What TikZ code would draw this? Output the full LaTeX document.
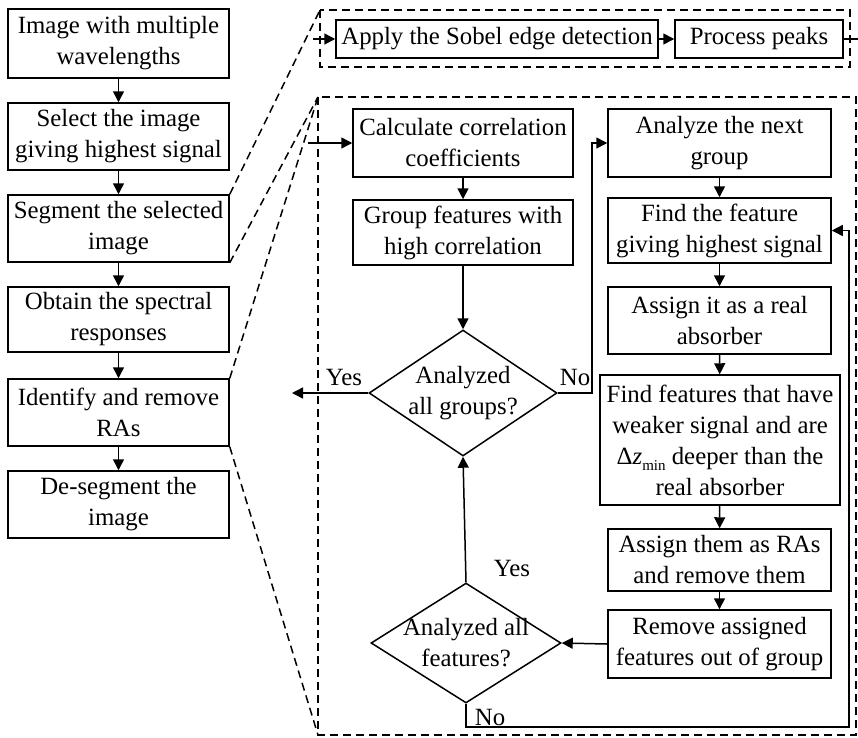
\documentclass[tikz,border=0pt]{standalone}
\usepackage{fontspec}
\setmainfont{Liberation Serif}
\usetikzlibrary{arrows.meta,shapes.geometric}
\begin{document}
\begin{tikzpicture}[x=1pt,y=-1pt,
  every node/.style={font=\fontsize{24.8}{31}\selectfont},
  box/.style={draw, line width=1.5pt, align=center, inner sep=0pt},
  dia/.style={draw, diamond, line width=1.5pt, inner sep=0pt},
  txt/.style={align=center, inner sep=0pt},
  arr/.style={line width=1.5pt, -{Triangle[length=11pt,width=11pt]}},
  ln/.style={line width=1.5pt},
  dsh/.style={line width=1.5pt, dash pattern=on 8pt off 5pt}]
\useasboundingbox (0,0) rectangle (858,737);
% left column
\node[box, minimum width=221pt, minimum height=69pt] (b1) at (118.5,43.5) {Image with multiple\\wavelengths};
\node[box, minimum width=221pt, minimum height=67pt] (b2) at (118.5,136.5) {Select the image\\giving highest signal};
\node[box, minimum width=221pt, minimum height=67pt] (b3) at (118.5,228.5) {Segment the selected\\image};
\node[box, minimum width=221pt, minimum height=65pt] (b4) at (118.5,319.5) {Obtain the spectral\\responses};
\node[box, minimum width=221pt, minimum height=67pt] (b5) at (118.5,412.5) {Identify and remove\\RAs};
\node[box, minimum width=221pt, minimum height=67pt] (b6) at (118.5,504.5) {De-segment the\\image};
\draw[arr] (b1) -- (b2);
\draw[arr] (b2) -- (b3);
\draw[arr] (b3) -- (b4);
\draw[arr] (b4) -- (b5);
\draw[arr] (b5) -- (b6);
% top dashed box
\coordinate (tTL) at (320,10);
\coordinate (tBR) at (850,67);
\draw[dsh] (tTL) rectangle (tBR);
\node[box, minimum width=322pt, minimum height=38pt] (sob) at (497,39) {Apply the Sobel edge detection};
\node[box, minimum width=168pt, minimum height=38pt] (pk) at (759,39) {Process peaks};
\coordinate (tin) at (313,39);
\coordinate (tout) at (858,39);
\draw[arr] (tin) -- (sob);
\draw[arr] (sob) -- (pk);
\draw[ln] (pk) -- (tout);
% large dashed box
\coordinate (lTL) at (318,97);
\coordinate (lBR) at (856,735);
\coordinate (lBL) at (318,735);
\draw[dsh] (lTL) rectangle (lBR);
% zoom lines
\draw[dsh] (b3.north east) -- (tTL);
\draw[dsh] (b3.south east) -- (lTL);
\draw[dsh] (b5.north east) -- (lTL);
\draw[dsh] (b5.south east) -- (lBL);
% middle column
\node[box, minimum width=220pt, minimum height=68pt] (calc) at (463,143) {Calculate correlation\\coefficients};
\node[box, minimum width=220pt, minimum height=65pt] (grp) at (463,232.5) {Group features with\\high correlation};
\node[dia, minimum width=188pt, minimum height=126pt] (d1) at (463,393) {};
\node[txt] at (d1) {Analyzed\\all groups?};
\node[dia, minimum width=190pt, minimum height=120pt] (d2) at (466,643) {};
\node[txt] at (d2) {Analyzed all\\features?};
\coordinate (cin) at (308,143);
\draw[arr] (cin) -- (calc);
\draw[arr] (calc) -- (grp);
\draw[arr] (grp) -- (d1);
\coordinate (yout) at (292,393);
\draw[arr] (d1.west) -- (yout);
\node[txt] at (344,377) {Yes};
% right column
\node[box, minimum width=223pt, minimum height=68pt] (nxt) at (719.5,143) {Analyze the next\\group};
\node[box, minimum width=223pt, minimum height=65pt] (fnd) at (719.5,230.5) {Find the feature\\giving highest signal};
\node[box, minimum width=223pt, minimum height=67pt] (as1) at (719.5,320.5) {Assign it as a real\\absorber};
\node[box, minimum width=240pt, minimum height=130pt] (big) at (720,440) {Find features that have\\weaker signal and are\\Δ\textit{z}\raisebox{-0.55ex}{\fontsize{15}{15}\selectfont min} deeper than the\\real absorber};
\node[box, minimum width=223pt, minimum height=62pt] (as2) at (719.5,560) {Assign them as RAs\\and remove them};
\node[box, minimum width=223pt, minimum height=68pt] (rem) at (719.5,644) {Remove assigned\\features out of group};
\draw[arr] (nxt) -- (fnd);
\draw[arr] (fnd) -- (as1);
\draw[arr] (as1) -- (big);
\draw[arr] (big) -- (as2);
\draw[arr] (as2) -- (rem);
\draw[arr] (rem.west) -- (d2.east);
% No from d1 to next group
\draw[arr] (d1.east) -- (592,393) |- (nxt.west);
\node[txt] at (575,377) {No};
% Yes from d2 to d1
\draw[arr] (d2.north) -- (d1.south);
\node[txt] at (512,568) {Yes};
% No loop from d2
\draw[arr] (d2.south) -- (466,727) -- (849,727) |- (fnd.east);
\node[txt] at (490,717) {No};
\end{tikzpicture}
\end{document}
